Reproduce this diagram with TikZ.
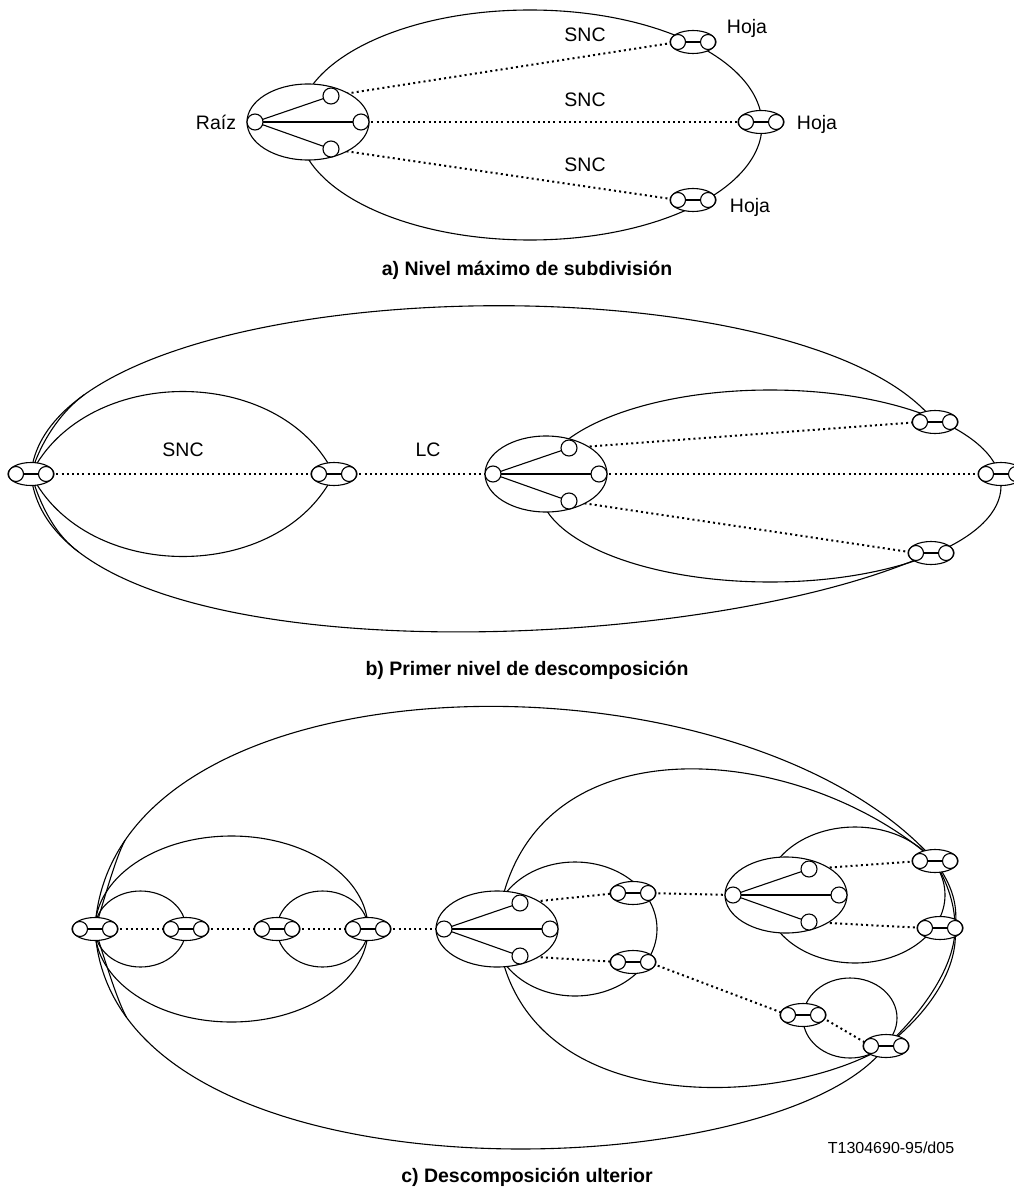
\documentclass[tikz,border=0pt]{standalone}
\usepackage{fontspec}
\setmainfont{Liberation Sans}
\newcommand\defport[3]{\coordinate (#1) at (#2,#3); \coordinate (#1l) at (#2-15,#3); \coordinate (#1r) at (#2+15,#3);}
\newcommand\drawport[1]{\draw[shell] (#1) ellipse[x radius=23,y radius=11.5]; \draw[line width=2.2pt] (#1l) -- (#1r); \draw[shell] (#1l) circle[radius=7.5]; \draw[shell] (#1r) circle[radius=7.5];}
\newcommand\defroot[3]{\coordinate (#1) at (#2,#3); \coordinate (#1-l) at (#2-53,#3); \coordinate (#1-r) at (#2+53,#3); \coordinate (#1-t) at (#2+23,#3-26); \coordinate (#1-b) at (#2+23,#3+27);}
\newcommand\drawroot[1]{\draw[shell] (#1) ellipse[x radius=61,y radius=38]; \draw[line width=1.1pt] (#1-l) -- (#1-t) (#1-l) -- (#1-b); \draw[line width=2.2pt] (#1-l) -- (#1-r); \foreach \k in {l,r,t,b} \draw[shell] (#1-\k) circle[radius=8];}
\begin{document}
\begin{tikzpicture}[x=1pt,y=-1pt,
  lin/.style={line width=1.1pt},
  dots/.style={line width=2pt,dash pattern=on 2pt off 3.2pt},
  shell/.style={draw,fill=white,line width=1.1pt},
  lbl/.style={font=\fontsize{19.5}{22}\selectfont,anchor=base},
  captext/.style={font=\fontsize{19.5}{22}\selectfont\bfseries,anchor=base},
  tagtext/.style={font=\fontsize{16}{18}\selectfont,anchor=base}]
\useasboundingbox (0,0) rectangle (1013,1198);
% ---------- a ----------
\defroot{ra}{308}{122}
\defport{a1}{693}{42}\defport{a2}{761}{122}\defport{a3}{693}{200}
\draw[lin] (530,125) ellipse[x radius=232,y radius=115];
\draw[dots] (ra-t) -- (a1l);
\draw[dots] (ra-r) -- (a2l);
\draw[dots] (ra-b) -- (a3l);
\drawroot{ra}
\drawport{a1}\drawport{a2}\drawport{a3}
\node[lbl] (sa1) at (585,42) {SNC};
\node[lbl] (sa2) at (585,107) {SNC};
\node[lbl] (sa3) at (585,172) {SNC};
\node[lbl] (h1) at (747,34) {Hoja};
\node[lbl] (h2) at (817,130) {Hoja};
\node[lbl] (h3) at (750,213) {Hoja};
\node[lbl] (rz) at (216,130) {Raíz};
\node[captext] (capa) at (527,275) {a) Nivel máximo de subdivisión};
% ---------- b ----------
\defport{bL}{31}{474}\defport{bM}{334}{474}\defroot{rb}{546}{474}
\defport{bT}{935}{422}\defport{bR}{1001}{474}\defport{bB}{931}{553}
\draw[lin] (bL) .. controls (86,364) and (280,364) .. (bM) .. controls (280,584) and (86,584) .. (bL);
\draw[lin] (770,486) ellipse[x radius=231,y radius=96];
\draw[lin] (bL) .. controls (50,270) and (800,250) .. coordinate[pos=0.15] (bo1) (bT);
\draw[lin] (bL) .. controls (50,680) and (700,660) .. coordinate[pos=0.15] (bo2) (bB);
\draw[lin] (bL) .. controls +(10,-34) and +(-22,16) .. (bo1);
\draw[lin] (bL) .. controls +(10,34) and +(-22,-16) .. (bo2);
\draw[dots] (bLr) -- (bMl);
\draw[dots] (bMr) -- (rb-l);
\draw[dots] (rb-t) -- (bTl);
\draw[dots] (rb-r) -- (bRl);
\draw[dots] (rb-b) -- (bBl);
\drawroot{rb}
\drawport{bL}\drawport{bM}\drawport{bT}\drawport{bR}\drawport{bB}
\node[lbl] (sb) at (183,456) {SNC};
\node[lbl] (lc) at (428,456) {LC};
\node[captext] (capb) at (527,675) {b) Primer nivel de descomposición};
% ---------- c ----------
\defport{P1}{95}{929}\defport{P2}{186}{929}\defport{P3}{277}{929}\defport{P4}{368}{929}
\defroot{rc}{497}{929}
\defport{Q1}{633}{893}\defport{Q2}{633}{962}
\defroot{rd}{786}{895}
\defport{R1}{935}{861}\defport{R2}{940}{928}
\defport{S1}{803}{1015}\defport{S2}{886}{1046}
\draw[lin] (140.5,929) ellipse[x radius=45.5,y radius=38];
\draw[lin] (322.5,929) ellipse[x radius=45.5,y radius=38];
\draw[lin] (231.5,929) ellipse[x radius=136.5,y radius=93];
\draw[lin] (575,929) ellipse[x radius=82,y radius=67];
\draw[lin] (855,895) ellipse[x radius=90,y radius=68];
\draw[lin] (850,1018) ellipse[x radius=47,y radius=40];
\draw[lin] (rc) .. controls (520,715) and (800,740) .. (R1) .. controls (945,880) and (955,900) .. (R2r)
   .. controls (955,965) and (925,1010) .. (S2) .. controls (780,1110) and (515,1120) .. (rc);
\draw[lin] (P1) .. controls (110,650) and (740,640) .. coordinate[pos=0.12] (co1) (R1);
\draw[lin] (R1) .. controls (948,880) and (959,900) .. (R2r) .. controls (959,968) and (929,1013) .. (S2);
\draw[lin] (P1) .. controls (110,1210) and (780,1190) .. coordinate[pos=0.12] (co2) (S2);
\draw[lin] (P1) .. controls +(8,-25) and +(-10,18) .. (co1);
\draw[lin] (P1) .. controls +(8,25) and +(-10,-18) .. (co2);
\draw[dots] (P1r) -- (P2l);
\draw[dots] (P2r) -- (P3l);
\draw[dots] (P3r) -- (P4l);
\draw[dots] (P4r) -- (rc-l);
\draw[dots] (rc-t) -- (Q1l);
\draw[dots] (rc-b) -- (Q2l);
\draw[dots] (Q1r) -- (rd-l);
\draw[dots] (rd-t) -- (R1l);
\draw[dots] (rd-b) -- (R2l);
\draw[dots] (Q2r) -- (S1l);
\draw[dots] (S1r) -- (S2l);
\drawroot{rc}\drawroot{rd}
\drawport{P1}\drawport{P2}\drawport{P3}\drawport{P4}
\drawport{Q1}\drawport{Q2}\drawport{R1}\drawport{R2}\drawport{S1}\drawport{S2}
\node[tagtext] (tg) at (891,1153) {T1304690-95/d05};
\node[captext] (capc) at (527,1182) {c) Descomposición ulterior};
\end{tikzpicture}
\end{document}
